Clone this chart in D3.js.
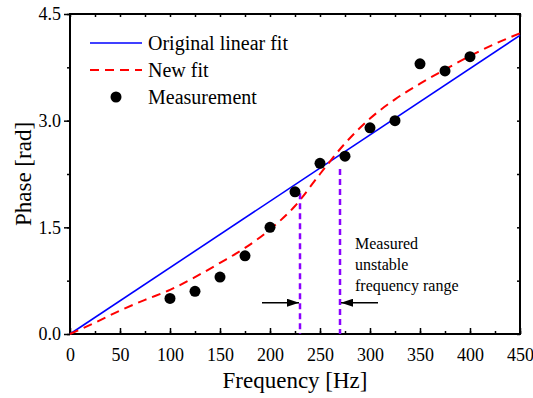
<!DOCTYPE html>
<html>
<head>
<meta charset="utf-8">
<script src="https://cdn.jsdelivr.net/npm/d3@7"></script>
<style>
  body { margin: 0; background: #fff; }
</style>
</head>
<body>
<div id="chart"></div>
<script>
// measured points
var measFreq = [100, 125, 150, 175, 200, 225, 250, 275, 300, 325, 350, 375, 400];
var measPhase = [0.5, 0.6, 0.8, 1.1, 1.5, 2.0, 2.4, 2.5, 2.9, 3.0, 3.8, 3.7, 3.9];

// original linear fit (end points)
var linFreq = [0, 450];
var linPhase = [0, 4.2];

// new fit
var fitFreq = [0, 25, 50, 75, 100, 125, 150, 175, 200, 225, 250, 275, 300, 325, 350, 375, 400, 425, 450];
var fitPhase = [0, 0.16, 0.33, 0.48, 0.62, 0.8, 1.0, 1.21, 1.47, 1.8, 2.25, 2.68, 3.03, 3.3, 3.52, 3.72, 3.91, 4.08, 4.23];

// unstable range limits
var rangeFreq = [230, 270];
var rangeTop = [1.98, 2.32];

var xTicks = [0, 50, 100, 150, 200, 250, 300, 350, 400, 450];
var yTicks = [0.0, 1.5, 3.0, 4.5];

function init() {
    var margin = {top: 14, right: 13, bottom: 64, left: 70},
        W = 533, H = 398,
        w = W - margin.left - margin.right,
        h = H - margin.top - margin.bottom;

    var serif = "Tinos, 'Liberation Serif', 'Times New Roman', 'DejaVu Serif', serif";

    var x = d3.scaleLinear().domain([0, 450]).range([0, w]);
    var y = d3.scaleLinear().domain([0, 4.5]).range([h, 0]);

    var svg = d3.select("#chart").append("svg")
        .attr("width", W)
        .attr("height", H)
        .style("font-family", serif);

    var defs = svg.append("defs");
    defs.append("marker")
        .attr("id", "head")
        .attr("viewBox", "0 0 12 8")
        .attr("refX", 12).attr("refY", 4)
        .attr("markerWidth", 12).attr("markerHeight", 8)
        .attr("markerUnits", "userSpaceOnUse")
        .attr("orient", "auto")
        .append("path")
        .attr("d", "M0,0L12,4L0,8Z")
        .attr("fill", "#000");

    var g = svg.append("g")
        .attr("transform", `translate(${margin.left}, ${margin.top})`);

    // axes
    var minorX = d3.range(0, 451, 25);
    var minorY = d3.range(0, 4.51, 0.75);

    g.append("g")
        .attr("transform", `translate(0, ${h})`)
        .call(d3.axisBottom(x).tickValues(xTicks).tickSize(-6).tickPadding(14).tickFormat(d3.format("d")));
    g.append("g")
        .attr("transform", `translate(0, ${h})`)
        .call(d3.axisBottom(x).tickValues(minorX).tickSize(-3).tickFormat(""));

    g.append("g")
        .call(d3.axisLeft(y).tickValues(yTicks).tickSize(6).tickPadding(3).tickFormat(d3.format(".1f")));
    g.append("g")
        .call(d3.axisLeft(y).tickValues(minorY).tickSize(3).tickFormat(""));

    g.append("g")
        .call(d3.axisTop(x).tickValues(minorX).tickSize(-3).tickFormat(""));
    g.append("g")
        .attr("transform", `translate(${w}, 0)`)
        .call(d3.axisRight(y).tickValues(minorY).tickSize(-3).tickFormat(""));

    g.selectAll(".domain").remove();
    g.selectAll("g").attr("font-family", serif);
    g.selectAll(".tick line").attr("stroke", "#000").attr("stroke-width", 1.5);
    g.selectAll(".tick text").attr("fill", "#000")
        .attr("font-size", 18);

    g.append("rect")
        .attr("width", w).attr("height", h)
        .attr("fill", "none").attr("stroke", "#000").attr("stroke-width", 2);

    // fits
    var line = d3.line()
        .x(d => x(d[0]))
        .y(d => y(d[1]));

    g.append("path")
        .datum(d3.zip(linFreq, linPhase))
        .attr("d", line)
        .attr("fill", "none")
        .attr("stroke", "#0000ff")
        .attr("stroke-width", 1.6);

    g.append("path")
        .datum(d3.zip(fitFreq, fitPhase))
        .attr("d", d3.line().x(d => x(d[0])).y(d => y(d[1])).curve(d3.curveMonotoneX))
        .attr("fill", "none")
        .attr("stroke", "#ff0000")
        .attr("stroke-width", 2)
        .attr("stroke-dasharray", "9,6");

    // unstable range
    g.selectAll(".range")
        .data(d3.zip(rangeFreq, rangeTop))
        .enter().append("line")
        .attr("x1", d => x(d[0])).attr("x2", d => x(d[0]))
        .attr("y1", d => y(d[1])).attr("y2", h)
        .attr("stroke", "#8a00ff")
        .attr("stroke-width", 2.5)
        .attr("stroke-dasharray", "6,4");

    g.selectAll(".dot")
        .data(d3.zip(measFreq, measPhase))
        .enter().append("circle")
        .attr("cx", d => x(d[0]))
        .attr("cy", d => y(d[1]))
        .attr("r", 5.5)
        .attr("fill", "#000");

    // arrows
    var arrowY = y(0.44);
    g.append("line")
        .attr("x1", x(rangeFreq[0] - 38)).attr("x2", x(rangeFreq[0]) - 1)
        .attr("y1", arrowY).attr("y2", arrowY)
        .attr("stroke", "#000").attr("stroke-width", 1.5)
        .attr("marker-end", "url(#head)");
    g.append("line")
        .attr("x1", x(rangeFreq[1] + 38)).attr("x2", x(rangeFreq[1]) + 1)
        .attr("y1", arrowY).attr("y2", arrowY)
        .attr("stroke", "#000").attr("stroke-width", 1.5)
        .attr("marker-end", "url(#head)");

    var note = g.append("text")
        .attr("x", x(rangeFreq[1]) + 15)
        .attr("y", 235)
        .attr("font-size", 16);
    ["Measured", "unstable", "frequency range"].forEach(function(t, i) {
        note.append("tspan")
            .attr("x", x(rangeFreq[1]) + 15)
            .attr("dy", i == 0 ? 0 : 21)
            .text(t);
    });

    // legend
    var legend = g.append("g").attr("transform", "translate(20, 29)");
    var items = ["Original linear fit", "New fit", "Measurement"];
    legend.append("line").attr("x1", 0).attr("x2", 52).attr("y1", 0).attr("y2", 0)
        .attr("stroke", "#0000ff").attr("stroke-width", 1.6);
    legend.append("line").attr("x1", 0).attr("x2", 52).attr("y1", 27).attr("y2", 27)
        .attr("stroke", "#ff0000").attr("stroke-width", 2).attr("stroke-dasharray", "9,6");
    legend.append("circle").attr("cx", 26).attr("cy", 54).attr("r", 5.5).attr("fill", "#000");
    legend.selectAll(".lab")
        .data(items)
        .enter().append("text")
        .attr("x", 58)
        .attr("y", (d, i) => i * 27 + 7)
        .attr("font-size", 20)
        .text(d => d);

    // axis titles
    svg.append("text")
        .attr("x", margin.left + w / 2)
        .attr("y", 388)
        .attr("text-anchor", "middle")
        .attr("font-size", 23)
        .text("Frequency [Hz]");

    svg.append("text")
        .attr("transform", `translate(31, ${margin.top + h / 2}) rotate(-90)`)
        .attr("text-anchor", "middle")
        .attr("font-size", 23)
        .text("Phase [rad]");
}

window.onload = init;
</script>
</body>
</html>
